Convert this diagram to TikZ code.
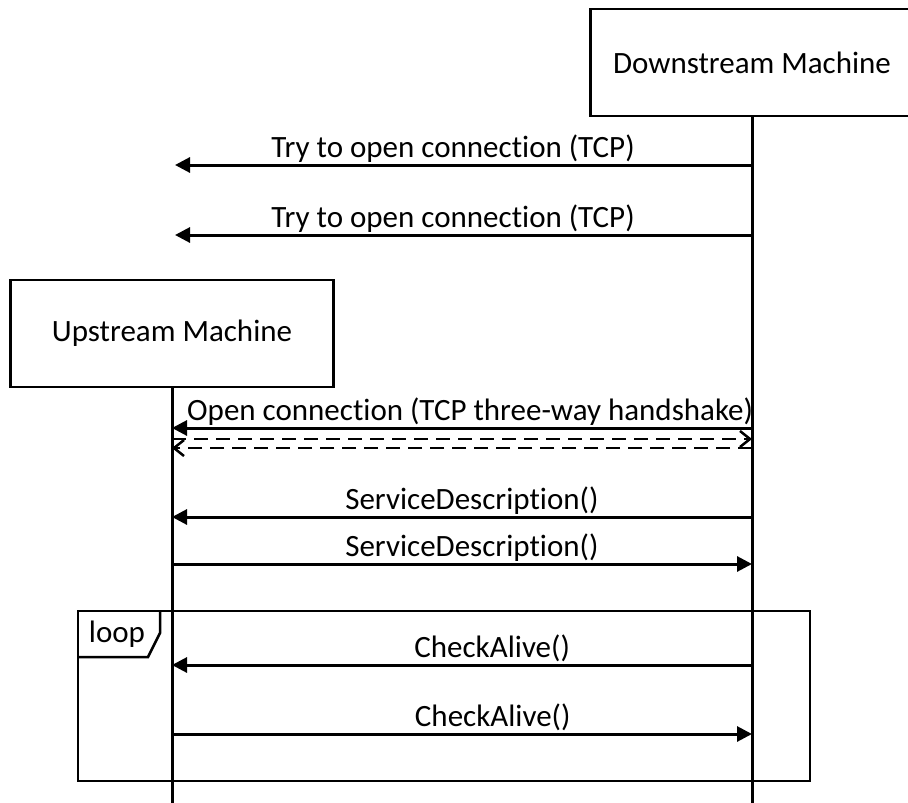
\documentclass[tikz,border=0pt]{standalone}
\usepackage{fontspec}
\setmainfont{Carlito}[Ligatures=NoCommon]
\usetikzlibrary{arrows.meta}

\tikzset{
    machine/.style={draw, line width=2.5pt, minimum width=323pt, minimum height=107pt,
        font=\fontsize{31}{37}\selectfont},
    lifeline/.style={line width=3pt},
    msg/.style={line width=3pt, -{Triangle[length=15pt,width=15pt]}},
    reply/.style={line width=2.5pt, dash pattern=on 14pt off 8pt,
        -{Straight Barb[length=10pt,width=16pt,line width=2.5pt]}},
    lbl/.style={font=\fontsize{31}{37}\selectfont, anchor=base, inner sep=0pt, yshift=8pt},
    frame/.style={line width=2.5pt}
}

\begin{document}
\begin{tikzpicture}[x=1pt,y=-1pt]
    \useasboundingbox (0,0) rectangle (908,803);

    % machines and lifelines
    \node[machine] (down) at (752,62.5) {Downstream Machine};
    \node[machine] (up) at (172,333.5) {Upstream Machine};
    \coordinate (downend) at (752,803);
    \coordinate (upend) at (172,803);
    \draw[lifeline] (down.south) -- (downend);
    \draw[lifeline] (up.south) -- (upend);

    % attempts before upstream exists
    \coordinate (d1) at (752,165);
    \coordinate (x1) at (175,165);
    \coordinate (d2) at (752,235);
    \coordinate (x2) at (175,235);
    \draw[msg] (d1) -- node[lbl,pos=0.518] {Try to open connection (TCP)} (x1);
    \draw[msg] (d2) -- node[lbl,pos=0.518] {Try to open connection (TCP)} (x2);

    % handshake
    \coordinate (d3) at (752,428);
    \coordinate (u3) at (172,428);
    \coordinate (d4) at (752,439);
    \coordinate (u4) at (172,439);
    \coordinate (d5) at (752,448);
    \coordinate (u5) at (172,448);
    \draw[msg] (d3) -- node[lbl,pos=0.486] {Open connection (TCP three-way handshake)} (u3);
    \draw[reply] (u4) -- (d4);
    \draw[reply] (d5) -- (u5);

    % service description
    \coordinate (d6) at (752,517);
    \coordinate (u6) at (172,517);
    \coordinate (d7) at (752,564);
    \coordinate (u7) at (172,564);
    \draw[msg] (d6) -- node[lbl,pos=0.483] {ServiceDescription()} (u6);
    \draw[msg] (u7) -- node[lbl,pos=0.517] {ServiceDescription()} (d7);

    % loop frame
    \coordinate (loopnw) at (78,611);
    \coordinate (loopse) at (810,781);
    \draw[frame] (loopnw) rectangle (loopse);
    \draw[frame] (78,657) -- (148,657) -- (160,633) -- (160,611);
    \node[font=\fontsize{31}{37}\selectfont, inner sep=0pt] (looptag) at (117,634) {loop};

    \coordinate (d8) at (752,665);
    \coordinate (u8) at (172,665);
    \coordinate (d9) at (752,734);
    \coordinate (u9) at (172,734);
    \draw[msg] (d8) -- node[lbl,pos=0.448] {CheckAlive()} (u8);
    \draw[msg] (u9) -- node[lbl,pos=0.553] {CheckAlive()} (d9);

\end{tikzpicture}
\end{document}
